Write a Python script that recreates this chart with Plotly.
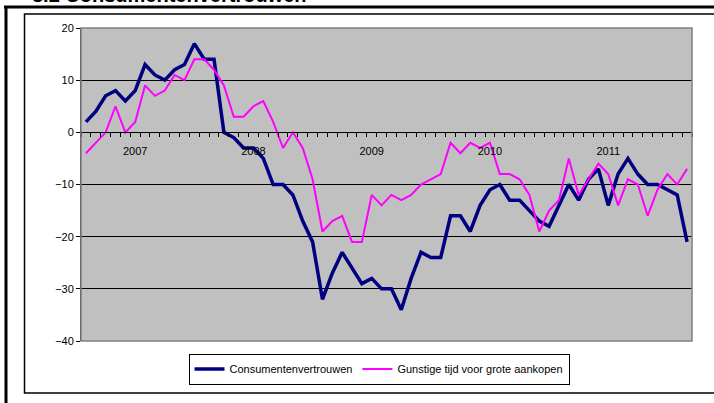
"""Consumentenvertrouwen vs. gunstige tijd voor grote aankopen, 2007-2012."""

import pandas as pd
import plotly.graph_objects as go

NAVY = "#000080"      # consumentenvertrouwen
MAGENTA = "#FF00FF"   # gunstige tijd voor grote aankopen
PLOT_BG = "#C0C0C0"
FONT = "Liberation Sans Narrow, Arial Narrow, Liberation Sans, Arial"

# Monthly categories, Jan 2007 .. Feb 2012
MONTHS = [p.strftime("%Y-%m") for p in pd.period_range("2007-01", "2012-02", freq="M")]
YEAR_LABELS = ["2007", "2008", "2009", "2010", "2011"]
YEAR_LABEL_MONTHS = ["2007-06", "2008-06", "2009-06", "2010-06", "2011-06"]

CONSUMENTENVERTROUWEN = [
    2, 4, 7, 8, 6, 8, 13, 11, 10, 12, 13, 17, 14, 14,
    0, -1, -3, -3, -5, -10, -10, -12, -17, -21, -32, -27, -23, -26,
    -29, -28, -30, -30, -34, -28, -23, -24, -24, -16, -16, -19, -14, -11,
    -10, -13, -13, -15, -17, -18, -14, -10, -13, -9, -7, -14, -8, -5,
    -8, -10, -10, -11, -12, -21,
]
GUNSTIGE_TIJD = [
    -4, -2, 0, 5, 0, 2, 9, 7, 8, 11, 10, 14, 14, 12,
    9, 3, 3, 5, 6, 2, -3, 0, -3, -9, -19, -17, -16, -21,
    -21, -12, -14, -12, -13, -12, -10, -9, -8, -2, -4, -2, -3, -2,
    -8, -8, -9, -12, -19, -15, -13, -5, -12, -9, -6, -8, -14, -9,
    -10, -16, -11, -8, -10, -7,
]

W, H = 714, 403
L, R, T, B = 81, 22, 28, 62   # plot area in pixels


def px(x):
    return (x - L) / (W - L - R)


def py(y):
    return (H - B - y) / (H - T - B)


xs = list(range(len(MONTHS)))

fig = go.Figure()
fig.add_trace(go.Scatter(
    x=xs, y=CONSUMENTENVERTROUWEN, customdata=MONTHS,
    mode="lines", name="Consumentenvertrouwen",
    line=dict(color=NAVY, width=3.5),
    hovertemplate="%{customdata}: %{y}<extra></extra>",
))
fig.add_trace(go.Scatter(
    x=xs, y=GUNSTIGE_TIJD, customdata=MONTHS,
    mode="lines", name="Gunstige tijd voor grote aankopen",
    line=dict(color=MAGENTA, width=2),
    hovertemplate="%{customdata}: %{y}<extra></extra>",
))

fig.update_layout(
    width=W, height=H,
    margin=dict(l=L, r=R, t=T, b=B),
    paper_bgcolor="white", plot_bgcolor=PLOT_BG,
    font=dict(family=FONT, size=11, color="black"),
    showlegend=True,
    legend=dict(
        orientation="h", x=px(379), y=py(369), xanchor="center", yanchor="middle",
        bordercolor="black", borderwidth=1, bgcolor="white",
        font=dict(size=11), itemwidth=30, tracegroupgap=0,
    ),
    shapes=[
        # page frame and chart-area border
        dict(type="line", xref="paper", yref="paper", x0=px(4), x1=px(720), y0=py(7), y1=py(7),
             line=dict(color="black", width=3)),
        dict(type="line", xref="paper", yref="paper", x0=px(6), x1=px(6), y0=py(6), y1=py(410),
             line=dict(color="black", width=3)),
        dict(type="rect", xref="paper", yref="paper", x0=px(24.5), x1=px(730), y0=py(14), y1=py(393),
             line=dict(color="black", width=1.5)),
        # plot-area border
        dict(type="rect", xref="paper", yref="paper", x0=0, x1=1, y0=0, y1=1,
             line=dict(color="#808080", width=1.5), layer="above"),
    ],
    annotations=[
        # section heading, mostly cropped off above the picture
        dict(text="<b>3.2 Consumentenvertrouwen</b>", xref="paper", yref="paper",
             x=px(30), y=py(7.5), xanchor="left", yanchor="bottom", showarrow=False,
             font=dict(family="Liberation Sans", size=20, color="black")),
    ],
)

fig.update_xaxes(
    range=[-0.5, len(MONTHS) - 0.5],
    anchor="free", position=py(132.2),
    tickmode="array",
    tickvals=[MONTHS.index(m) for m in YEAR_LABEL_MONTHS],
    ticktext=YEAR_LABELS,
    ticks="outside", ticklen=9, tickcolor="rgba(0,0,0,0)",
    tickfont=dict(size=11),
    minor=dict(
        tickmode="array",
        tickvals=[i - 0.5 for i in range(len(MONTHS) + 1)],
        ticks="outside", ticklen=4, tickcolor="black", tickwidth=1,
    ),
    showline=True, linecolor="black", linewidth=1,
    showgrid=False, zeroline=False,
)
fig.update_yaxes(
    range=[-40, 20], dtick=10,
    ticks="outside", ticklen=4, tickcolor="black",
    tickfont=dict(size=11),
    showline=True, linecolor="#333333", linewidth=1,
    showgrid=True, gridcolor="black", gridwidth=1,
    zeroline=False,
)

# the page frame starts at the window edge, so drop the default body margin
fig.write_html(
    "out.html",
    config={"displayModeBar": False},
    post_script="document.body.style.margin = '0';",
)
